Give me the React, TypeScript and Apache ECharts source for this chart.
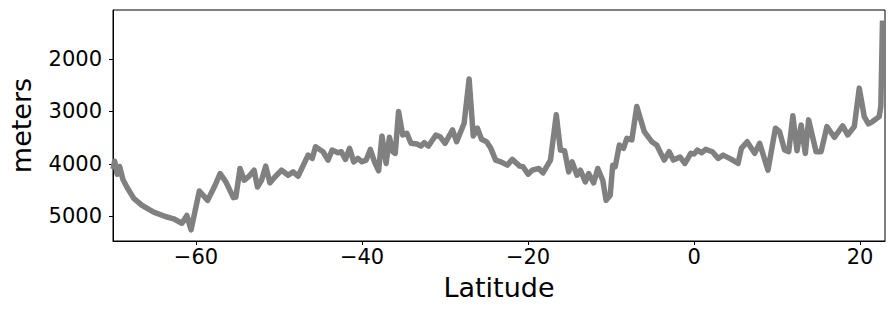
import React, { useEffect, useRef } from "react";
import * as echarts from "echarts";

const latitude: number[] = [
  -70.0, -69.8, -69.5, -69.2, -68.8, -68.3, -67.5, -66.5, -65.1, -63.7, -62.7, -61.7, -61.1, -60.6,
  -59.6, -58.6, -57.7, -57.1, -56.4, -55.5, -55.2, -54.7, -54.2, -53.7, -53.0, -52.6, -52.1, -51.6,
  -51.1, -50.5, -49.7, -48.9, -48.3, -47.7, -46.5, -46.0, -45.6, -44.7, -44.1, -43.6, -42.9, -42.5,
  -42.0, -41.5, -41.0, -40.5, -40.0, -39.5, -39.0, -38.5, -38.0, -37.6, -37.1, -36.7, -36.3, -36.0,
  -35.6, -35.1, -34.6, -34.1, -33.4, -32.9, -32.5, -32.0, -31.1, -30.6, -30.0, -29.1, -28.6, -27.7,
  -27.1, -26.6, -26.1, -25.6, -25.0, -24.5, -23.9, -23.3, -22.5, -21.9, -21.0, -20.6, -20.0, -19.5,
  -18.7, -18.2, -17.3, -16.6, -16.1, -15.6, -15.1, -14.7, -14.1, -13.7, -13.1, -12.7, -12.1, -11.6,
  -11.0, -10.6, -10.1, -9.8, -9.5, -9.0, -8.5, -8.1, -7.5, -6.9, -6.0, -5.1, -4.5, -3.6, -3.0, -2.5,
  -1.7, -1.1, -0.4, 0.0, 0.4, 0.9, 1.4, 2.2, 2.9, 3.5, 4.5, 5.3, 5.7, 6.4, 7.3, 7.9, 8.9, 9.8, 10.3,
  10.9, 11.4, 11.9, 12.4, 12.9, 13.4, 13.8, 14.7, 15.3, 16.0, 16.9, 17.9, 18.5, 19.3, 19.9, 20.5,
  21.0, 21.5, 22.3, 22.5, 22.7,
];

const depthMeters: number[] = [
  4100, 3950, 4200, 4050, 4300, 4450, 4658, 4792, 4920, 5003, 5047, 5131, 4983, 5257,
  4517, 4696, 4408, 4185, 4345, 4644, 4632, 4089, 4313, 4250, 4121, 4441, 4313, 4044,
  4364, 4250, 4121, 4217, 4153, 4236, 3834, 3897, 3675, 3770, 3929, 3738, 3789, 3770,
  3916, 3705, 3962, 3897, 3962, 3929, 3725, 3962, 4134, 3470, 3993, 3494, 3770, 3801,
  3004, 3450, 3418, 3609, 3623, 3661, 3598, 3661, 3450, 3483, 3609, 3355, 3579, 3226,
  2383, 3470, 3322, 3533, 3579, 3700, 3929, 3962, 4025, 3916, 4044, 4057, 4198, 4121,
  4089, 4173, 3929, 3067, 3738, 3751, 4153, 3962, 4217, 4121, 4345, 4185, 4364, 4089,
  4313, 4696, 4600, 4025, 4057, 3642, 3705, 3514, 3546, 2908, 3387, 3579, 3642, 3929, 3770, 3929,
  3870, 3993, 3801, 3814, 3738, 3789, 3725, 3770, 3897, 3834, 3916, 3993, 3705, 3579, 3801, 3609, 4121, 3322, 3387,
  3738, 3770, 3086, 3751, 3259, 3801, 3163, 3770, 3770, 3291, 3494, 3278, 3450, 3291, 2558, 3100,
  3240, 3195, 3100, 2900, 1270,
];

const xTicks: number[] = [-60, -40, -20, 0, 20];
const yTicks: number[] = [2000, 3000, 4000, 5000];

export default function App() {
  const ref = useRef<HTMLDivElement>(null);
  useEffect(() => {
    document.body.style.margin = "0";
    if (!ref.current) return;
    const chart = echarts.init(ref.current, undefined, { renderer: "svg" });
    const font = "DejaVu Sans";
    chart.setOption({
      animation: false,
      grid: {
        left: 110,
        right: 10,
        top: 10,
        bottom: 73,
        show: true,
        borderColor: "#000",
        borderWidth: 1,
        backgroundColor: "transparent",
      },
      xAxis: {
        type: "value",
        min: -70,
        max: 23,
        name: "Latitude",
        nameLocation: "middle",
        nameGap: 33,
        nameTextStyle: { fontFamily: font, fontSize: 27, color: "#000" },
        splitLine: { show: false },
        axisLine: { show: true, onZero: false, lineStyle: { color: "#000", width: 1 } },
        axisTick: { show: true, length: 4, lineStyle: { color: "#000" }, customValues: xTicks },
        axisLabel: {
          customValues: xTicks,
          margin: 5,
          fontFamily: font,
          fontSize: 21,
          color: "#000",
          formatter: (v: number) => String(v).replace("-", "\u2212"),
        },
      },
      yAxis: {
        type: "value",
        inverse: true,
        min: 1070,
        max: 5470,
        name: "meters",
        nameLocation: "middle",
        nameRotate: 90,
        nameGap: 78,
        nameTextStyle: { fontFamily: font, fontSize: 27, color: "#000" },
        splitLine: { show: false },
        axisLine: { show: true, onZero: false, lineStyle: { color: "#000", width: 1 } },
        axisTick: { show: true, length: 4, lineStyle: { color: "#000" }, customValues: yTicks },
        axisLabel: {
          customValues: yTicks,
          margin: 11,
          fontFamily: font,
          fontSize: 21,
          color: "#000",
          formatter: (v: number) => String(v),
        },
      },
      series: [
        {
          type: "line",
          data: latitude.map((x, i) => [x, depthMeters[i]]),
          showSymbol: false,
          symbol: "none",
          lineStyle: { color: "#808080", width: 5.5, join: "round", cap: "butt" },
          clip: true,
        },
      ],
    });
    return () => chart.dispose();
  }, []);
  return <div ref={ref} style={{ width: 895, height: 314 }} />;
}
